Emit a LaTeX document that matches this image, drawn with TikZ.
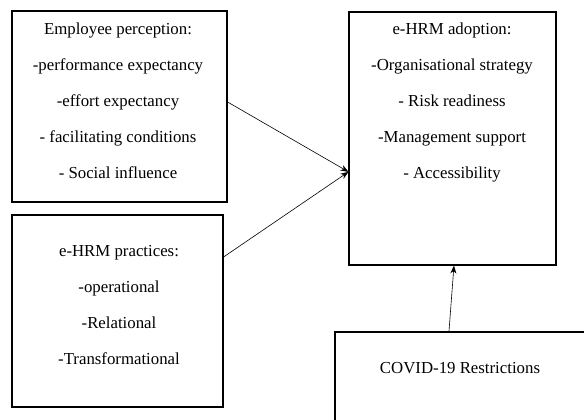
\documentclass[tikz,border=0pt]{standalone}
\usepackage{fontspec}
\setmainfont{Liberation Serif}
\usetikzlibrary{arrows.meta}
\begin{document}
\begin{tikzpicture}[x=0.75pt,y=-0.75pt,
  box/.style={draw=black,line width=0.8pt,rectangle,inner sep=0pt},
  txt/.style={align=center,font=\fontsize{12.6}{27}\selectfont,inner sep=0pt},
  conn/.style={draw=black,line width=0.45pt,-{Stealth[length=6pt,width=4.5pt]}}]
\useasboundingbox (0,0) rectangle (584,419);
\clip (0,0) rectangle (584,419);
\node[box,minimum width=161.25pt,minimum height=143.25pt] (a) at (119.5,106.5) {};
\node[box,minimum width=158.25pt,minimum height=144pt] (b) at (117.5,311) {};
\node[box,minimum width=155.25pt,minimum height=189.75pt] (c) at (452.5,138.5) {};
\node[box,minimum width=198.75pt,minimum height=81pt] (d) at (467.5,386) {};
\node[txt] (at) at (118,101) {Employee perception:\\-performance expectancy\\-effort expectancy\\- facilitating conditions\\- Social influence};
\node[txt] (bt) at (119,305.5) {e-HRM practices:\\-operational\\-Relational\\-Transformational};
\node[txt] (ct) at (452,102) {e-HRM adoption:\\-Organisational strategy\\- Risk readiness\\-Management support\\- Accessibility};
\node[txt] (dt) at (460,368) {COVID-19 Restrictions};
\draw[conn] ([yshift=3.4pt]a.east) -- ([yshift=-25pt]c.west);
\draw[conn] ([yshift=40.5pt]b.east) -- ([yshift=-25pt]c.west);
\draw[conn] ([xshift=-13.9pt]d.north) -- ([xshift=1.1pt]c.south);
\end{tikzpicture}
\end{document}
